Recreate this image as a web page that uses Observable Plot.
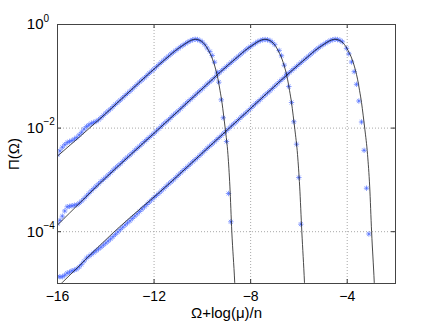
<!DOCTYPE html>
<html><head><meta charset="utf-8">
<script src="https://cdn.jsdelivr.net/npm/d3@7"></script>
<script src="https://cdn.jsdelivr.net/npm/@observablehq/plot@0.6"></script>
<style>html,body{margin:0;padding:0;background:#fff}svg{display:block}</style>
</head><body><div id="chart"></div>
<script>
// ---- tick labels ----
const xTicks = [-16, -12, -8, -4];
const yTicks = [1e-4, 1e-2, 1];
const yTickExp = ["\u22124", "\u22122", "0"];
const xLabel = "\u03A9+log(\u03BC)/n";
const yLabel = "\u03A0(\u03A9)";

// ---- theory curves (x, log10 Pi) ----
const line1X = [-16,-14,-12.5,-11.78,-11.38,-11.12,-10.83,-10.57,-10.43,-10.29,-10.11,-9.945,-9.83,-9.738,-9.63,-9.531,-9.44,-9.352,-9.27,-9.187,-9.12,-9.05,-8.94,-8.86,-8.78,-8.66,-8.63];
const line1Log = [-2.54,-1.72,-1.07,-0.77,-0.61,-0.505,-0.41,-0.33,-0.30,-0.285,-0.305,-0.36,-0.43,-0.508,-0.61,-0.734,-0.88,-1.056,-1.27,-1.506,-1.75,-2.02,-2.51,-3.12,-4.0,-4.98,-5.3];
const line2X = [-16,-14,-12,-10,-9.6,-8.9,-8.5,-8.24,-7.95,-7.69,-7.55,-7.41,-7.23,-7.065,-6.95,-6.858,-6.75,-6.651,-6.56,-6.472,-6.39,-6.307,-6.24,-6.17,-6.058,-5.97,-5.88,-5.77,-5.74];
const line2Log = [-3.87,-2.96,-2.10,-1.24,-1.065,-0.77,-0.61,-0.505,-0.41,-0.33,-0.30,-0.285,-0.305,-0.36,-0.43,-0.508,-0.61,-0.734,-0.88,-1.056,-1.27,-1.506,-1.75,-2.02,-2.51,-3.12,-4.0,-4.98,-5.3];
const line3X = [-16,-15.8,-13.67,-11.32,-10.09,-8,-6.7,-6.0,-5.6,-5.34,-5.05,-4.79,-4.65,-4.51,-4.33,-4.165,-4.05,-3.958,-3.85,-3.751,-3.66,-3.572,-3.49,-3.407,-3.34,-3.27,-3.158,-3.07,-2.99,-2.88,-2.85];
const line3Log = [-5.07,-4.98,-4.01,-3.05,-2.52,-1.62,-1.06,-0.77,-0.61,-0.505,-0.41,-0.33,-0.30,-0.285,-0.305,-0.36,-0.43,-0.508,-0.61,-0.734,-0.88,-1.056,-1.27,-1.506,-1.75,-2.02,-2.51,-3.12,-4.0,-4.98,-5.3];

// ---- simulation markers (x, log10 Pi) ----
const markX = [-16,-15.8,-15.6,-15.4,-15.2,-15,-14.8,-14.6,-14.4,-14.2,-14,-13.8,-13.6,-13.4,-13.2,-13,-12.8,-12.6,-12.4,-12.2,-12,-11.8,-11.6,-11.4,-11.2,-11,-10.8,-10.6,-10.4,-10.2,-10,-9.8,-9.6,-9.4,-9.2,-9,-8.8,-8.6,-8.4,-8.2,-8,-7.8,-7.6,-7.4,-7.2,-7,-6.8,-6.6,-6.4,-6.2,-6,-5.8,-5.6,-5.4,-5.2,-5,-4.8,-4.6,-4.4,-4.2];
const mark1Log = [-2.52,-2.37,-2.28,-2.24,-2.18,-2.08,-1.97,-1.91,-1.87,-1.80,-1.71,-1.63,-1.54,-1.46,-1.37,-1.29,-1.20,-1.11,-1.03,-0.94,-0.86,-0.77,-0.69,-0.61,-0.535,-0.465,-0.40,-0.34,-0.295,-0.29,-0.34,-0.455];
const mark2Log = [-3.85,-3.70,-3.52,-3.50,-3.48,-3.41,-3.31,-3.21,-3.12,-3.03,-2.95,-2.86,-2.77,-2.69,-2.60,-2.52,-2.43,-2.35,-2.26,-2.18,-2.10,-2.01,-1.92,-1.84,-1.75,-1.67,-1.58,-1.49,-1.41,-1.32,-1.24,-1.15,-1.07,-0.98,-0.89,-0.81,-0.73,-0.65,-0.57,-0.49,-0.425,-0.36,-0.31,-0.29,-0.31,-0.39];
const mark3Log = [-4.87,-4.87,-4.80,-4.755,-4.72,-4.63,-4.51,-4.44,-4.37,-4.30,-4.22,-4.14,-4.05,-3.96,-3.87,-3.79,-3.70,-3.61,-3.52,-3.43,-3.34,-3.26,-3.17,-3.08,-3.00,-2.91,-2.82,-2.74,-2.65,-2.57,-2.48,-2.39,-2.31,-2.22,-2.14,-2.05,-1.96,-1.88,-1.79,-1.71,-1.62,-1.53,-1.45,-1.36,-1.28,-1.19,-1.10,-1.02,-0.93,-0.85,-0.77,-0.69,-0.61,-0.53,-0.455,-0.39,-0.335,-0.295,-0.29,-0.335];
// intermediate samples
const markXh = [-15.9,-15.7,-15.5,-15.3,-15.1,-14.9,-14.7,-14.5,-14.3,-14.1,-13.9,-13.7,-13.5,-13.3,-13.1,-12.9,-12.7,-12.5,-12.3,-12.1,-11.9,-11.7,-11.5,-11.3,-11.1,-10.9,-10.7,-10.5,-10.3,-10.1,-9.9,-9.7,-9.5,-9.3,-9.1,-8.9,-8.7,-8.5,-8.3,-8.1,-7.9,-7.7,-7.5,-7.3,-7.1,-6.9,-6.7,-6.5,-6.3,-6.1,-5.9,-5.7,-5.5,-5.3,-5.1,-4.9,-4.7,-4.5,-4.3];
const mark1hLog = [-2.44,-2.32,-2.26,-2.21,-2.13,-2.02,-1.94,-1.89,-1.84,-1.755,-1.67,-1.585,-1.50,-1.415,-1.33,-1.245,-1.155,-1.07,-0.985,-0.90,-0.815,-0.73,-0.65,-0.57,-0.50,-0.43,-0.37,-0.315,-0.285,-0.31,-0.39];
const mark2hLog = [-3.78,-3.60,-3.51,-3.49,-3.45,-3.36,-3.26,-3.165,-3.075,-2.99,-2.905,-2.815,-2.73,-2.645,-2.56,-2.475,-2.39,-2.305,-2.22,-2.14,-2.055,-1.965,-1.88,-1.795,-1.71,-1.625,-1.535,-1.45,-1.365,-1.28,-1.195,-1.11,-1.025,-0.935,-0.85,-0.77,-0.69,-0.61,-0.53,-0.455,-0.39,-0.33,-0.295,-0.295,-0.345];
const mark3hLog = [-4.87,-4.84,-4.78,-4.74,-4.68,-4.57,-4.475,-4.405,-4.335,-4.26,-4.18,-4.095,-4.005,-3.915,-3.83,-3.745,-3.655,-3.565,-3.475,-3.385,-3.30,-3.215,-3.125,-3.04,-2.955,-2.865,-2.78,-2.695,-2.61,-2.525,-2.435,-2.35,-2.265,-2.18,-2.095,-2.005,-1.92,-1.835,-1.75,-1.665,-1.575,-1.49,-1.405,-1.32,-1.235,-1.145,-1.06,-0.975,-0.89,-0.81,-0.73,-0.65,-0.57,-0.49,-0.42,-0.36,-0.31,-0.285,-0.305];
const drop1X = [-9.69,-9.592,-9.496,-9.384,-9.318,-9.219,-9.136,-8.999,-8.916,-8.821];
const drop1Log = [-0.52,-0.598,-0.728,-0.921,-1.114,-1.454,-1.801,-2.259,-3.263,-3.809];
const drop2X = [-6.82,-6.721,-6.609,-6.514,-6.419,-6.307,-6.211,-6.1,-6.004,-5.921];
const drop2Log = [-0.50,-0.604,-0.786,-0.959,-1.197,-1.506,-1.878,-2.311,-2.954,-3.855];
const drop3X = [-4.03,-3.933,-3.821,-3.71,-3.614,-3.519,-3.407,-3.3,-3.2,-3.104];
const drop3Log = [-0.46,-0.566,-0.724,-0.911,-1.155,-1.477,-1.882,-2.429,-3.16,-4.044];

// ---- build tables ----
const zip = (xs, ls, c) => ls.map((l, i) => ({x: xs[i], y: Math.pow(10, l), c}));
const lines = [...zip(line1X, line1Log, 1), ...zip(line2X, line2Log, 2), ...zip(line3X, line3Log, 3)];
const marks = [
  ...zip(markX, mark1Log, 1), ...zip(markXh, mark1hLog, 1), ...zip(drop1X, drop1Log, 1),
  ...zip(markX, mark2Log, 2), ...zip(markXh, mark2hLog, 2), ...zip(drop2X, drop2Log, 2),
  ...zip(markX, mark3Log, 3), ...zip(markXh, mark3hLog, 3), ...zip(drop3X, drop3Log, 3)
];

const star = {draw(ctx, size) {
  const r = Math.sqrt(size / Math.PI), d = r * Math.SQRT1_2;
  ctx.moveTo(-r, 0); ctx.lineTo(r, 0);
  ctx.moveTo(0, -r); ctx.lineTo(0, r);
  ctx.moveTo(-d, -d); ctx.lineTo(d, d);
  ctx.moveTo(-d, d); ctx.lineTo(d, -d);
}};

const W = 436, H = 321, mL = 57, mR = 41, mT = 24, mB = 38;
const pw = W - mL - mR, ph = H - mT - mB;
const fmtX = d => d < 0 ? "\u2212" + Math.abs(d) : String(d);

const plot = Plot.plot({
  width: W, height: H,
  marginLeft: mL, marginRight: mR, marginTop: mT, marginBottom: mB,
  style: {fontFamily: "'Liberation Sans', Arial, Helvetica, sans-serif", fontSize: "14px", background: "#fff", color: "#000"},
  x: {domain: [-16, -2]},
  y: {type: "log", domain: [1e-5, 1]},
  marks: [
    Plot.gridX(xTicks.slice(1), {stroke: "#a8a8a8", strokeOpacity: 1, strokeDasharray: "1,2"}),
    Plot.gridY(yTicks.slice(0, 2), {stroke: "#a8a8a8", strokeOpacity: 1, strokeDasharray: "1,2"}),
    Plot.dot(marks, {x: "x", y: "y", symbol: star, r: 2.7, fill: "none", stroke: "#4565ff", strokeWidth: 0.8, strokeOpacity: 0.8, clip: true}),
    Plot.line(lines, {x: "x", y: "y", z: "c", stroke: "#1a1a1a", strokeWidth: 0.8, curve: "monotone-x", clip: true}),
    Plot.tickY(yTicks, {y: d => d, insetRight: pw - 4, stroke: "#333"}),
    Plot.tickY(yTicks, {y: d => d, insetLeft: pw - 4, stroke: "#333"}),
    Plot.tickX(xTicks, {x: d => d, insetTop: ph - 4, stroke: "#333"}),
    Plot.tickX(xTicks, {x: d => d, insetBottom: ph - 4, stroke: "#333"}),
    Plot.frame({stroke: "#444"}),
    Plot.axisX(xTicks, {tickSize: 0, tickPadding: 8, tickFormat: fmtX, label: null, fontSize: 14}),
    Plot.axisY(yTicks, {tickSize: 0, tickPadding: 14, tickFormat: () => "10", label: null, fontSize: 15}),
    Plot.text(yTicks, {y: d => d, text: (d, i) => yTickExp[i], frameAnchor: "left", dx: -14, dy: -6, textAnchor: "start", lineAnchor: "middle", fontSize: 10}),
    Plot.text([xLabel], {frameAnchor: "bottom", dy: 30, textAnchor: "middle", lineAnchor: "middle", fontSize: 15}),
    Plot.text([yLabel], {frameAnchor: "left", dx: -43, rotate: -90, textAnchor: "middle", lineAnchor: "middle", fontSize: 15})
  ]
});
document.getElementById("chart").appendChild(plot);
</script>
</body></html>
